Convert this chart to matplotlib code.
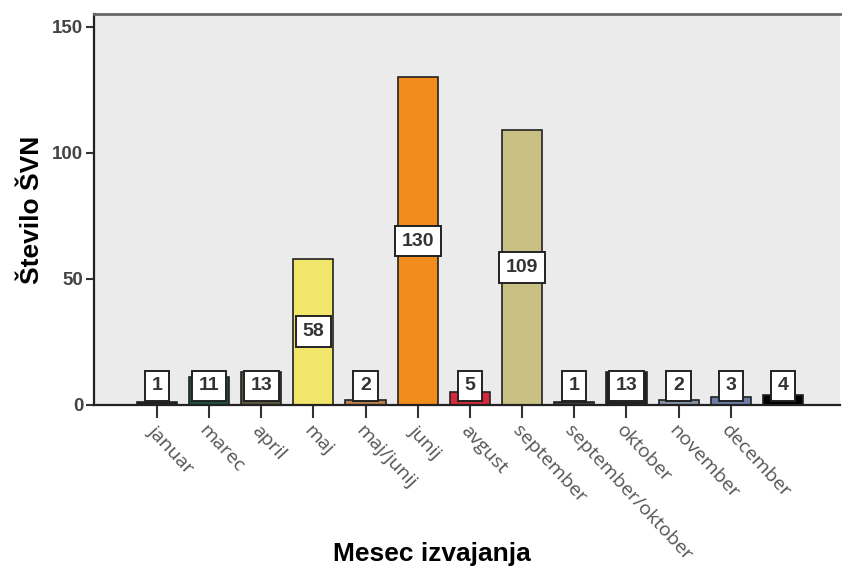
import numpy as np
import matplotlib
matplotlib.use("Agg")
from matplotlib import pyplot as plt

months = ["januar", "marec", "april", "maj", "maj/junij", "junij", "avgust",
          "september", "september/oktober", "oktober", "november", "december", ""]
counts = [1, 11, 13, 58, 2, 130, 5, 109, 1, 13, 2, 3, 4]
colors = ["#202020", "#1e5242", "#5c5a3a", "#f2e66a", "#b8804a", "#f28c1c", "#d62a3c",
          "#c9c184", "#404040", "#222222", "#8494a6", "#6c7ea8", "#000000"]

plt.rcParams['font.family'] = ['Liberation Sans', 'DejaVu Sans']

fig = plt.figure(figsize=(8.42, 5.71), dpi=100)
ax = fig.add_axes([0.112, 0.291, 0.886, 0.684])
ax.set_facecolor("#ebebeb")

x = np.arange(len(counts))
ax.bar(x, counts, width=0.77, color=colors, edgecolor="#222222", linewidth=1.2, zorder=2)

# value labels in white boxes
for xi, v in zip(x, counts):
    ypos = max(v / 2, 7.5)
    ax.text(xi, ypos, str(v), ha='center', va='center', fontsize=14, fontweight='bold',
            color="#333333", zorder=3,
            bbox=dict(boxstyle='square,pad=0.35', facecolor='white',
                      edgecolor='#222222', linewidth=1.4))

ax.set_xlim(-1.2, 13.1)
ax.set_ylim(0, 155)
ax.set_yticks([0, 50, 100, 150])
ax.set_xticks(x[:-1])
ax.set_xticklabels(months[:-1], rotation=-47, ha='left', va='top', rotation_mode='anchor',
                   family='Open Sans', fontsize=14, color="#555555")
for lbl in ax.get_yticklabels():
    lbl.set_color("#444444")
    lbl.set_fontsize(13.5)
    lbl.set_fontweight('bold')
ax.tick_params(axis='y', direction='out', length=6, width=1.5, color="#333333", pad=2)
ax.tick_params(axis='x', direction='out', length=9, width=1.5, color="#333333", pad=3)

for s in ['left', 'bottom']:
    ax.spines[s].set_linewidth(1.6)
    ax.spines[s].set_color("#222222")
ax.spines['top'].set_linewidth(2)
ax.spines['top'].set_color("#666666")
ax.spines['right'].set_visible(False)

ax.set_ylabel("Število ŠVN", fontsize=19, fontweight='bold')
ax.yaxis.set_label_coords(-0.068, 0.5)
ax.set_xlabel("Mesec izvajanja", fontsize=19, fontweight='bold')
ax.xaxis.set_label_coords(0.453, -0.35)

fig.savefig("out.png", dpi=100)
